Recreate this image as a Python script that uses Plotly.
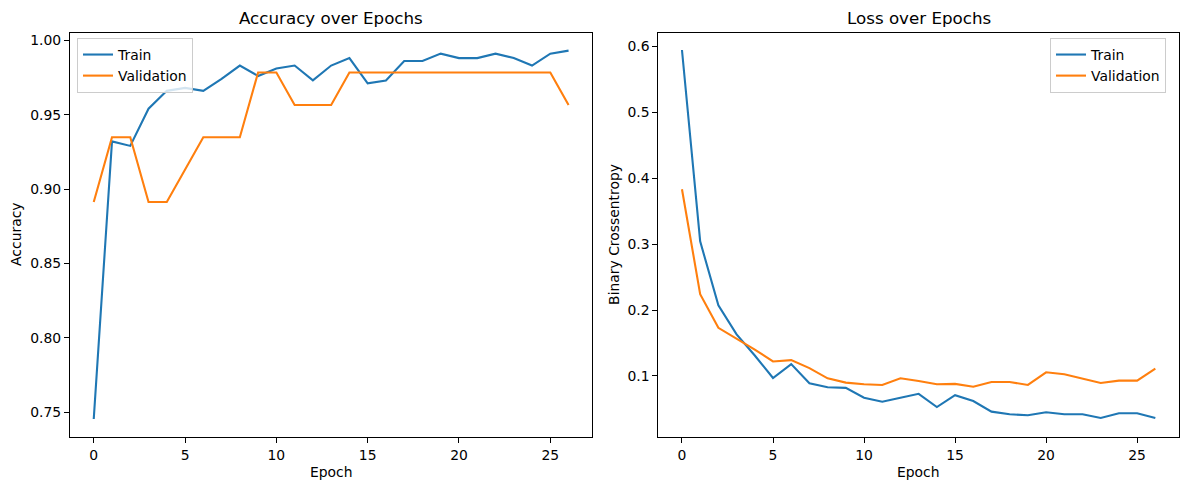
import plotly.graph_objects as go

epochs = list(range(27))
train_acc = [0.7455, 0.932, 0.929, 0.954, 0.966, 0.968, 0.966, 0.974, 0.983, 0.976,
             0.981, 0.983, 0.973, 0.983, 0.988, 0.971, 0.973, 0.986, 0.986, 0.991,
             0.988, 0.988, 0.991, 0.988, 0.983, 0.991, 0.993]
val_acc = [0.8913, 0.9348, 0.9348, 0.8913, 0.8913, 0.9130, 0.9348, 0.9348, 0.9348, 0.9783,
           0.9783, 0.9565, 0.9565, 0.9565, 0.9783, 0.9783, 0.9783, 0.9783, 0.9783, 0.9783,
           0.9783, 0.9783, 0.9783, 0.9783, 0.9783, 0.9783, 0.9565]
train_loss = [0.594, 0.304, 0.207, 0.163, 0.131, 0.097, 0.118, 0.089, 0.083, 0.082,
              0.067, 0.061, 0.067, 0.073, 0.053, 0.071, 0.062, 0.046, 0.042, 0.0405,
              0.045, 0.042, 0.042, 0.0364, 0.0435, 0.0435, 0.0364]
val_loss = [0.383, 0.224, 0.173, 0.157, 0.140, 0.122, 0.124, 0.112, 0.0965, 0.090,
            0.0874, 0.0864, 0.0965, 0.0924, 0.0874, 0.088, 0.0838, 0.0909, 0.0909, 0.0864,
            0.1056, 0.1026, 0.096, 0.0894, 0.093, 0.093, 0.111]

BLUE = "#1f77b4"
ORANGE = "#ff7f0e"
FONT = "DejaVu Sans"
W, H = 1189, 490

fig = go.Figure()
fig.add_trace(go.Scatter(x=epochs, y=train_acc, mode="lines", name="Train",
                         line=dict(color=BLUE, width=2.1), xaxis="x", yaxis="y", legend="legend"))
fig.add_trace(go.Scatter(x=epochs, y=val_acc, mode="lines", name="Validation",
                         line=dict(color=ORANGE, width=2.1), xaxis="x", yaxis="y", legend="legend"))
fig.add_trace(go.Scatter(x=epochs, y=train_loss, mode="lines", name="Train",
                         line=dict(color=BLUE, width=2.1), xaxis="x2", yaxis="y2", legend="legend2"))
fig.add_trace(go.Scatter(x=epochs, y=val_loss, mode="lines", name="Validation",
                         line=dict(color=ORANGE, width=2.1), xaxis="x2", yaxis="y2", legend="legend2"))

x1 = (70 / W, 592.3 / W)
x2 = (658.3 / W, 1179 / W)
yd = (1 - 437.3 / H, 1 - 32.5 / H)

axis_common = dict(showline=True, linecolor="black", linewidth=1, mirror=True,
                   showgrid=False, zeroline=False, ticks="outside", ticklen=5,
                   tickwidth=1, tickcolor="black",
                   tickfont=dict(family=FONT, size=13.9, color="black"))

fig.update_layout(
    width=W, height=H,
    margin=dict(l=0, r=0, t=0, b=0),
    paper_bgcolor="white", plot_bgcolor="white",
    font=dict(family=FONT, color="black"),
    xaxis=dict(domain=x1, range=[-1.3, 27.3], tickvals=[0, 5, 10, 15, 20, 25],
               anchor="y", **axis_common),
    yaxis=dict(domain=yd, range=[0.7332, 1.0052],
               tickvals=[0.75, 0.80, 0.85, 0.90, 0.95, 1.00],
               ticktext=["0.75", "0.80", "0.85", "0.90", "0.95", "1.00"],
               anchor="x", **axis_common),
    xaxis2=dict(domain=x2, range=[-1.3, 27.3], tickvals=[0, 5, 10, 15, 20, 25],
                anchor="y2", **axis_common),
    yaxis2=dict(domain=yd, range=[0.0071, 0.6205],
                tickvals=[0.1, 0.2, 0.3, 0.4, 0.5, 0.6],
                anchor="x2", **axis_common),
    legend=dict(x=77 / W, y=1 - 38 / H, xanchor="left", yanchor="top",
                bgcolor="rgba(255,255,255,0.8)", bordercolor="#cccccc", borderwidth=1,
                font=dict(family=FONT, size=13.9, color="black"),
                tracegroupgap=0, itemwidth=30),
    legend2=dict(x=1166 / W, y=1 - 38 / H, xanchor="right", yanchor="top",
                 bgcolor="rgba(255,255,255,0.8)", bordercolor="#cccccc", borderwidth=1,
                 font=dict(family=FONT, size=13.9, color="black"),
                 tracegroupgap=0, itemwidth=30),
    showlegend=True,
)

ann_font = dict(family=FONT, size=13.9, color="black")
title_font = dict(family=FONT, size=16.7, color="black")
annotations = [
    dict(text="Accuracy over Epochs", x=(x1[0] + x1[1]) / 2, y=1 - 18 / H,
         xref="paper", yref="paper", showarrow=False, font=title_font,
         xanchor="center", yanchor="middle"),
    dict(text="Loss over Epochs", x=(x2[0] + x2[1]) / 2, y=1 - 18 / H,
         xref="paper", yref="paper", showarrow=False, font=title_font,
         xanchor="center", yanchor="middle"),
    dict(text="Epoch", x=(x1[0] + x1[1]) / 2, y=1 - 472 / H,
         xref="paper", yref="paper", showarrow=False, font=ann_font,
         xanchor="center", yanchor="middle"),
    dict(text="Epoch", x=(x2[0] + x2[1]) / 2, y=1 - 472 / H,
         xref="paper", yref="paper", showarrow=False, font=ann_font,
         xanchor="center", yanchor="middle"),
    dict(text="Accuracy", x=16 / W, y=(yd[0] + yd[1]) / 2, textangle=-90,
         xref="paper", yref="paper", showarrow=False, font=ann_font,
         xanchor="center", yanchor="middle"),
    dict(text="Binary Crossentropy", x=614 / W, y=(yd[0] + yd[1]) / 2, textangle=-90,
         xref="paper", yref="paper", showarrow=False, font=ann_font,
         xanchor="center", yanchor="middle"),
]
fig.update_layout(annotations=annotations)

fig.write_html("out.html",
               config={"displayModeBar": False},
               post_script="document.body.style.margin='0';document.body.style.padding='0';")
